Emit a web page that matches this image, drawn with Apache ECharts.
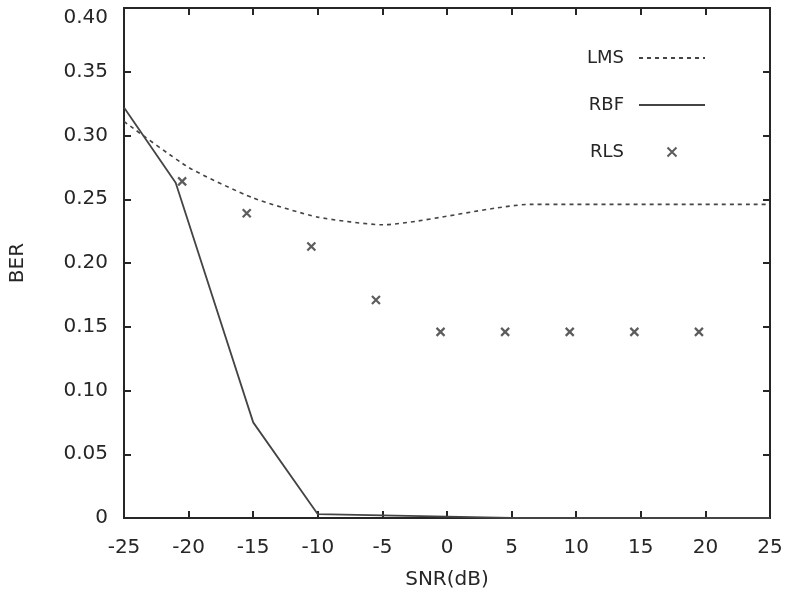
<!DOCTYPE html>
<html>
<head>
<meta charset="utf-8">
<script src="https://cdn.jsdelivr.net/npm/echarts@6/dist/echarts.min.js"></script>
<style>
    html, body { margin: 0; padding: 0; background: #fff; }
    #chart { width: 789px; height: 593px; }
</style>
</head>
<body>
<div id="chart"></div>
<script>

// values
var snrLms = [-25, -20, -15, -10, -5, 6.5, 25];
var berLms = [0.311, 0.275, 0.251, 0.236, 0.230, 0.246, 0.246];

var snrRbf = [-25, -21, -15, -10, -5, 0, 5, 25];
var berRbf = [0.322, 0.263, 0.075, 0.003, 0.002, 0.001, 0, 0];

var snrRls = [-20.5, -15.5, -10.5, -5.5, -0.5, 4.5, 9.5, 14.5, 19.5];
var berRls = [0.264, 0.239, 0.213, 0.171, 0.146, 0.146, 0.146, 0.146, 0.146];

function pairs(xs, ys) {
    var out = [];
    for (var i = 0; i < xs.length; i++) {
        out.push([xs[i], ys[i]]);
    }
    return out;
}

var ink = '#262626';
var font = 'DejaVu Sans';

var myChart = echarts.init(document.getElementById('chart'));

var option = {
    backgroundColor: '#fff',
    animation: false,
    grid: {
        left: 124, right: 19, top: 8, bottom: 75,
        outerBoundsMode: 'none',
        show: true,
        borderColor: ink,
        borderWidth: 2
    },
    legend: {
        orient: 'vertical',
        right: 78,
        top: 44,
        align: 'right',
        itemGap: 29,
        itemWidth: 66,
        itemHeight: 9,
        textStyle: { color: ink, fontSize: 18, fontFamily: font, padding: [0, 10, 0, 0] },
        data: [
            { name: 'LMS', itemStyle: { opacity: 0 } },
            { name: 'RBF', itemStyle: { opacity: 0 } },
            { name: 'RLS' }
        ]
    },
    xAxis: [{
        type: 'value',
        min: -25, max: 25, interval: 5,
        name: 'SNR(dB)',
        nameLocation: 'middle',
        nameGap: 52,
        nameTextStyle: { color: ink, fontSize: 20, fontFamily: font },
        axisLine: { onZero: false, lineStyle: { color: ink, width: 2 } },
        axisTick: { inside: true, length: 7, lineStyle: { color: ink, width: 2 } },
        axisLabel: { color: ink, fontSize: 20, fontFamily: font, margin: 20 },
        splitLine: { show: false }
    }, {
        type: 'value',
        position: 'top',
        min: -25, max: 25, interval: 5,
        axisLine: { onZero: false, lineStyle: { color: ink, width: 2 } },
        axisTick: { inside: true, length: 7, lineStyle: { color: ink, width: 2 } },
        axisLabel: { show: false },
        splitLine: { show: false }
    }],
    yAxis: [{
        type: 'value',
        min: 0, max: 0.4, interval: 0.05,
        name: 'BER',
        nameLocation: 'middle',
        nameGap: 96,
        nameTextStyle: { color: ink, fontSize: 20, fontFamily: font },
        axisLine: { onZero: false, lineStyle: { color: ink, width: 2 } },
        axisTick: { inside: true, length: 7, lineStyle: { color: ink, width: 2 } },
        axisLabel: {
            color: ink, fontSize: 20, fontFamily: font, margin: 16,
            verticalAlignMaxLabel: 'top',
            formatter: function (v) { return v === 0 ? '0' : v.toFixed(2); }
        },
        splitLine: { show: false }
    }, {
        type: 'value',
        position: 'right',
        min: 0, max: 0.4, interval: 0.05,
        axisLine: { onZero: false, lineStyle: { color: ink, width: 2 } },
        axisTick: { inside: true, length: 7, lineStyle: { color: ink, width: 2 } },
        axisLabel: { show: false },
        splitLine: { show: false }
    }],
    series: [
        {
            name: 'LMS',
            type: 'line',
            symbol: 'none',
            smooth: 0.2,
            lineStyle: { color: '#444', width: 1.6, type: [4, 4] },
            itemStyle: { color: '#444' },
            data: pairs(snrLms, berLms)
        }, {
            name: 'RBF',
            type: 'line',
            symbol: 'none',
            lineStyle: { color: '#444', width: 1.8 },
            itemStyle: { color: '#444' },
            data: pairs(snrRbf, berRbf)
        }, {
            name: 'RLS',
            type: 'scatter',
            symbol: 'path://M0,0L10,10M10,0L0,10',
            symbolSize: 8,
            itemStyle: { color: 'none', borderColor: '#333', borderWidth: 2.2 },
            data: pairs(snrRls, berRls)
        }
    ]
};

myChart.setOption(option);

</script>
</body>
</html>
